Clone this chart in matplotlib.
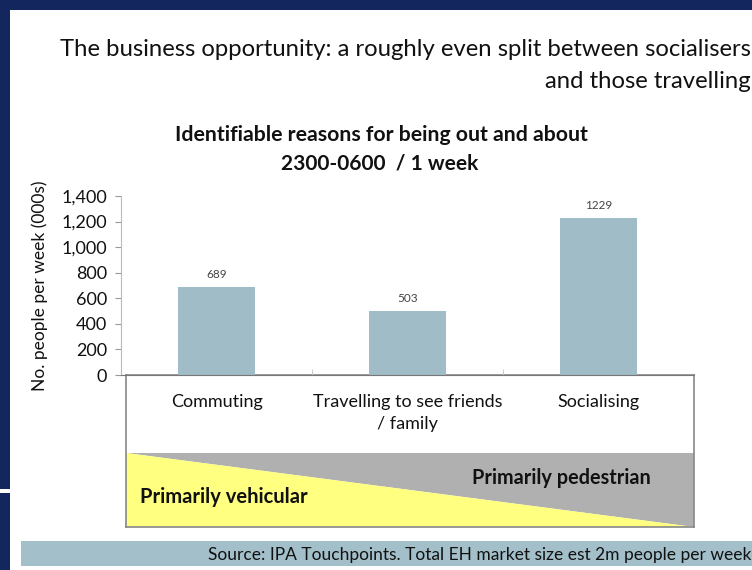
import matplotlib.pyplot as plt
from matplotlib.patches import Rectangle, Polygon

plt.rcParams['font.family'] = ['Lato', 'DejaVu Sans']

# data
categories = ["Commuting", "Travelling to see friends\n/ family", "Socialising"]
values = [689, 503, 1229]
y_ticks = [0, 200, 400, 600, 800, 1000, 1200, 1400]
y_tick_labels = ["0", "200", "400", "600", "800", "1,000", "1,200", "1,400"]

W, H = 752, 570
BG = "#14265e"
BAR = "#a0bcc6"
INK = "#111111"


def fx(px):
    return px / W


def fy(py):
    return 1 - py / H


fig = plt.figure(figsize=(W / 100, H / 100), dpi=100)
fig.patch.set_facecolor(BG)

# white slide panel
fig.add_artist(Rectangle((fx(10), 0), 1 - fx(10), fy(10), transform=fig.transFigure,
                         facecolor="white", edgecolor="none", zorder=0))
fig.add_artist(Rectangle((0, fy(493)), fx(10), 4 / H, transform=fig.transFigure,
                         facecolor="white", edgecolor="none", zorder=0))

# slide heading
fig.text(fx(751), fy(50), "The business opportunity: a roughly even split between socialisers",
         ha="right", va="center", fontsize=17.2, color=INK)
fig.text(fx(751), fy(82), "and those travelling",
         ha="right", va="center", fontsize=17.2, color=INK)

# chart title
fig.text(fx(381), fy(135), "Identifiable reasons for being out and about",
         ha="center", va="center", fontsize=15.3, fontweight="bold", color=INK)
fig.text(fx(380), fy(164), "2300-0600  / 1 week",
         ha="center", va="center", fontsize=15, fontweight="bold", color=INK)

# box under the chart with vehicular / pedestrian split
bx = fig.add_axes([fx(126), fy(527), fx(694) - fx(126), (527 - 375) / H], zorder=1)
bx.set_xlim(126, 694)
bx.set_ylim(527, 375)
bx.set_xticks([])
bx.set_yticks([])
bx.set_facecolor("white")
for s in bx.spines.values():
    s.set_color("#888888")
    s.set_linewidth(1.2)
bx.add_patch(Polygon([(126, 453), (694, 453), (694, 527)], closed=True,
                     facecolor="#b0b0b0", edgecolor="none"))
bx.add_patch(Polygon([(126, 453), (694, 527), (126, 527)], closed=True,
                     facecolor="#ffff80", edgecolor="none"))
bx.text(140, 497, "Primarily vehicular",
        ha="left", va="center", fontsize=14.5, fontweight="bold", color=INK)
bx.text(561, 478, "Primarily pedestrian",
        ha="center", va="center", fontsize=14.3, fontweight="bold", color=INK)

# bar chart
ax = fig.add_axes([fx(121), fy(375), fx(694) - fx(121), (375 - 196) / H], zorder=2)
ax.set_facecolor("none")
x = list(range(len(values)))
ax.bar(x, values, width=0.4, color=BAR, zorder=2)
for xi, v in zip(x, values):
    ax.text(xi, v + 55, str(v), ha="center", va="bottom", fontsize=8.5, color="#444444")
ax.set_xlim(-0.5, len(values) - 0.5)
ax.set_ylim(0, 1400)
ax.set_yticks(y_ticks)
ax.set_yticklabels(y_tick_labels, fontsize=13, color=INK)
ax.set_xticks([0.5, 1.5])
ax.set_xticklabels([])
ax.tick_params(axis="y", length=4, color="#999999", pad=6)
ax.tick_params(axis="x", length=4, color="#cccccc", direction="in")
for s in ["top", "right"]:
    ax.spines[s].set_visible(False)
ax.spines["left"].set_color("#bbbbbb")
ax.spines["bottom"].set_color("#777777")
ax.set_ylabel("No. people per week (000s)", fontsize=12.5, color=INK)
ax.yaxis.set_label_coords(-0.128, 0.5)
for xi, lab in zip(x, categories):
    ax.text(xi, -145, lab, ha="center", va="top", fontsize=13, color=INK,
            linespacing=1.5, clip_on=False)

# source band
fig.add_artist(Rectangle((fx(21), fy(566)), 1 - fx(21), 25 / H, transform=fig.transFigure,
                         facecolor="#a3bfc9", edgecolor="none"))
fig.text(fx(751), fy(555), "Source: IPA Touchpoints. Total EH market size est 2m people per week",
         ha="right", va="center", fontsize=12.5, color=INK)

fig.savefig("out.png", dpi=100, facecolor=fig.get_facecolor())
